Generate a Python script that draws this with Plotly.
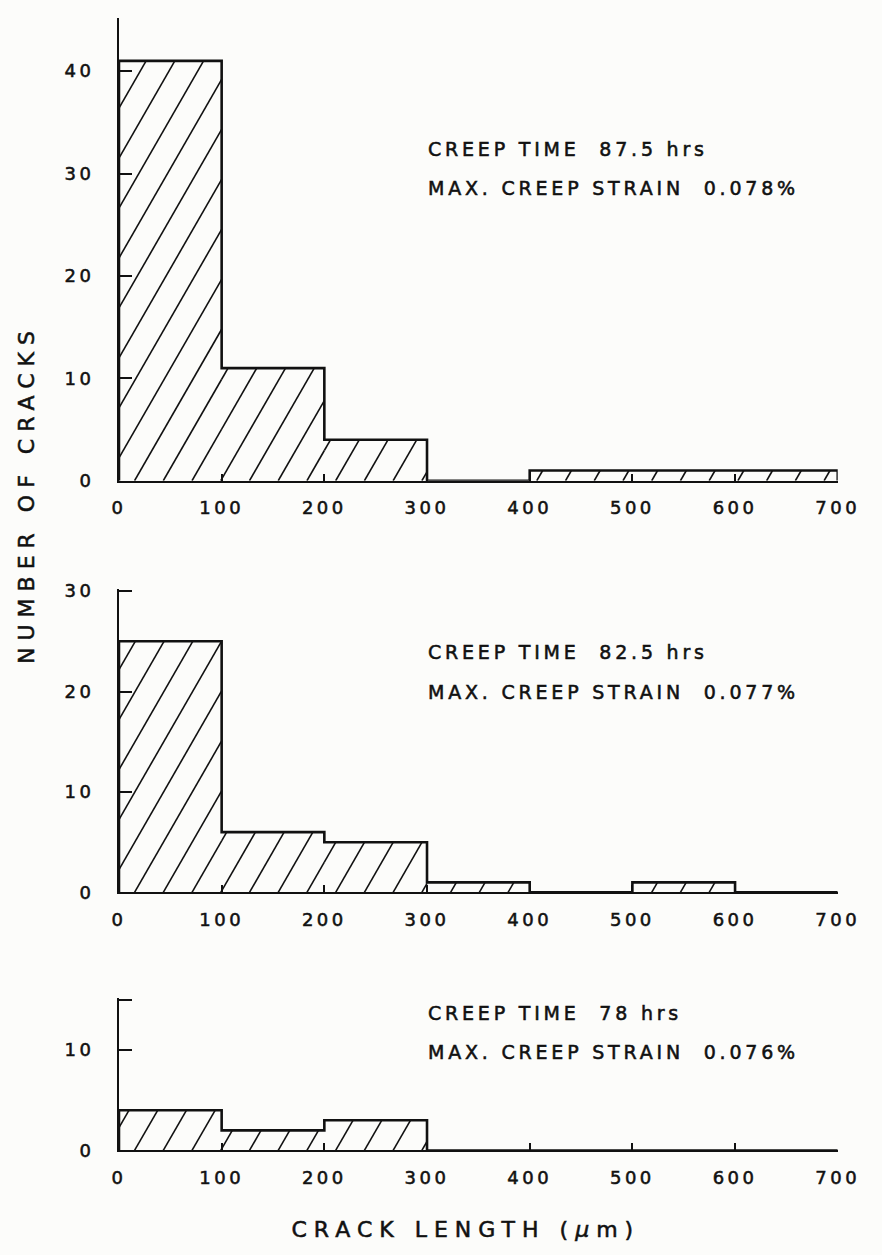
import math
import plotly.graph_objects as go

# ---- data -------------------------------------------------------------
bin_edges = [0, 100, 200, 300, 400, 500, 600, 700]          # crack length bins (um)
cracks_87_5h = [41, 11, 4, 0, 1, 1, 1]                      # creep time 87.5 hrs
cracks_82_5h = [25, 6, 5, 1, 0, 1, 0]                       # creep time 82.5 hrs
cracks_78h = [4, 2, 3, 0, 0, 0, 0]                          # creep time 78 hrs
x_tick_vals = [0, 100, 200, 300, 400, 500, 600, 700]
creep_times = ["87.5 hrs", "82.5 hrs", "78 hrs"]
creep_strains = ["0.078%", "0.077%", "0.076%"]

# ---- geometry (pixels) --------------------------------------------------
W, H = 882, 1255
X0, X1 = 116, 854
NB = "\u00a0"
FONT = "DejaVu Sans, Verdana, sans-serif"
INK = "#111111"

panels = [
    dict(counts=cracks_87_5h, top=9, base=479, ymax=45.2,
         yvals=[0, 10, 20, 30, 40], ytext=["0", "10", "20", "30", "40"], ty=(142, 182)),
    dict(counts=cracks_82_5h, top=589, base=897, ymax=30.2,
         yvals=[0, 10, 20, 30], ytext=["0", "10", "20", "30"], ty=(653, 693)),
    dict(counts=cracks_78h, top=1004, base=1159, ymax=15.2,
         yvals=[0, 10, 15], ytext=["0", "10", ""], ty=(1019, 1059)),
]

HATCH_SLOPE = 1.72     # rise over run, in screen pixels
HATCH_GAP = 29.5       # horizontal pixel spacing of hatch lines
HATCH_PHASE = 16.0


def hatch_lines(edges, counts, kx, ky):
    """Diagonal hatching clipped to each histogram bar, in data units."""
    xs, ys = [], []
    for i, h in enumerate(counts):
        if h <= 0:
            continue
        u0, u1 = edges[i] * kx, edges[i + 1] * kx
        hv = h * ky
        k = math.floor((u0 - hv / HATCH_SLOPE - HATCH_PHASE) / HATCH_GAP)
        while True:
            c = HATCH_PHASE + k * HATCH_GAP
            if c >= u1:
                break
            a = max(u0, c)
            b = min(u1, c + hv / HATCH_SLOPE)
            if b - a > 0.8:
                xs += [a / kx, b / kx, None]
                ys += [HATCH_SLOPE * (a - c) / ky, HATCH_SLOPE * (b - c) / ky, None]
            k += 1
    return xs, ys


fig = go.Figure()
annotations = [
    dict(text="NUMBER OF CRACKS", x=21 / W, y=1 - 492 / H, xref="paper", yref="paper",
         xanchor="center", yanchor="middle", textangle=-90, showarrow=False,
         font=dict(size=22, family=FONT, color=INK)),
    dict(text="CRACK LENGTH (<i>\u03bc</i>m)", x=472 / W, y=1 - 1239 / H, xref="paper", yref="paper",
         xanchor="center", yanchor="middle", showarrow=False,
         font=dict(size=22, family=FONT, color=INK)),
]

for n, p in enumerate(panels, start=1):
    kx = (X1 - X0) / (bin_edges[-1] - bin_edges[0])
    ky = (p["base"] - p["top"]) / p["ymax"]
    xa = "x" if n == 1 else f"x{n}"
    ya = "y" if n == 1 else f"y{n}"

    hx, hy = hatch_lines(bin_edges, p["counts"], kx, ky)
    fig.add_trace(go.Scatter(x=hx, y=hy, mode="lines", xaxis=xa, yaxis=ya,
                             line=dict(color=INK, width=1.6), hoverinfo="skip",
                             showlegend=False, cliponaxis=False))

    counts = p["counts"]
    sx = [bin_edges[0]] + bin_edges + [bin_edges[-1]]
    sy = [0] + counts + [counts[-1], 0]
    fig.add_trace(go.Scatter(x=sx, y=sy, mode="lines", line_shape="hv", xaxis=xa, yaxis=ya,
                             line=dict(color=INK, width=2.6), hoverinfo="skip",
                             showlegend=False, cliponaxis=False))

    axis_common = dict(showline=True, linewidth=2, linecolor=INK, showgrid=False, zeroline=False,
                       ticks="inside", tickwidth=2, tickcolor=INK,
                       tickfont=dict(size=18, family=FONT, color=INK))
    fig.update_layout({
        ("xaxis" if n == 1 else f"xaxis{n}"): dict(
            domain=[X0 / W, X1 / W], range=[0, 700], anchor=ya,
            tickvals=x_tick_vals, ticktext=[str(v) for v in x_tick_vals],
            ticklen=7, ticklabelstandoff=10, **axis_common),
        ("yaxis" if n == 1 else f"yaxis{n}"): dict(
            domain=[1 - p["base"] / H, 1 - p["top"] / H], range=[0, p["ymax"]], anchor=xa,
            tickvals=p["yvals"], ticktext=p["ytext"], ticklen=13, ticklabelstandoff=19,
            **axis_common),
    })

    lines = (f"CREEP TIME{NB}{NB}{creep_times[n - 1]}",
             f"MAX. CREEP STRAIN{NB}{NB}{creep_strains[n - 1]}")
    for txt, yy in zip(lines, p["ty"]):
        annotations.append(dict(text=txt, x=431 / W, y=1 - yy / H, xref="paper", yref="paper",
                                xanchor="left", yanchor="middle", align="left", showarrow=False,
                                font=dict(size=19, family=FONT, color=INK)))

fig.update_layout(width=W, height=H, margin=dict(l=0, r=0, t=0, b=0),
                  paper_bgcolor="#fcfcfa", plot_bgcolor="#fcfcfa",
                  annotations=annotations, showlegend=False)

# widen the letter spacing of the labels and give the type a heavier stroke
spacing_js = """
var gd = document.getElementById('{plot_id}');
function ink(t, ls) {
  t.style.letterSpacing = ls;
  t.style.stroke = '#111111';
  t.style.strokeWidth = '0.55px';
}
gd.querySelectorAll('.xaxislayer-above text, .yaxislayer-above text').forEach(function(t){ ink(t, '3.5px'); });
gd.querySelectorAll('.annotation-text').forEach(function(t){ ink(t, '3.8px'); });
[0, 1].forEach(function(i){
  var el = gd.querySelector('.annotation[data-index="' + i + '"] .annotation-text');
  if (el) { ink(el, '7px'); }
});
"""

fig.write_html("out.html", config={"displayModeBar": False}, post_script=spacing_js)
